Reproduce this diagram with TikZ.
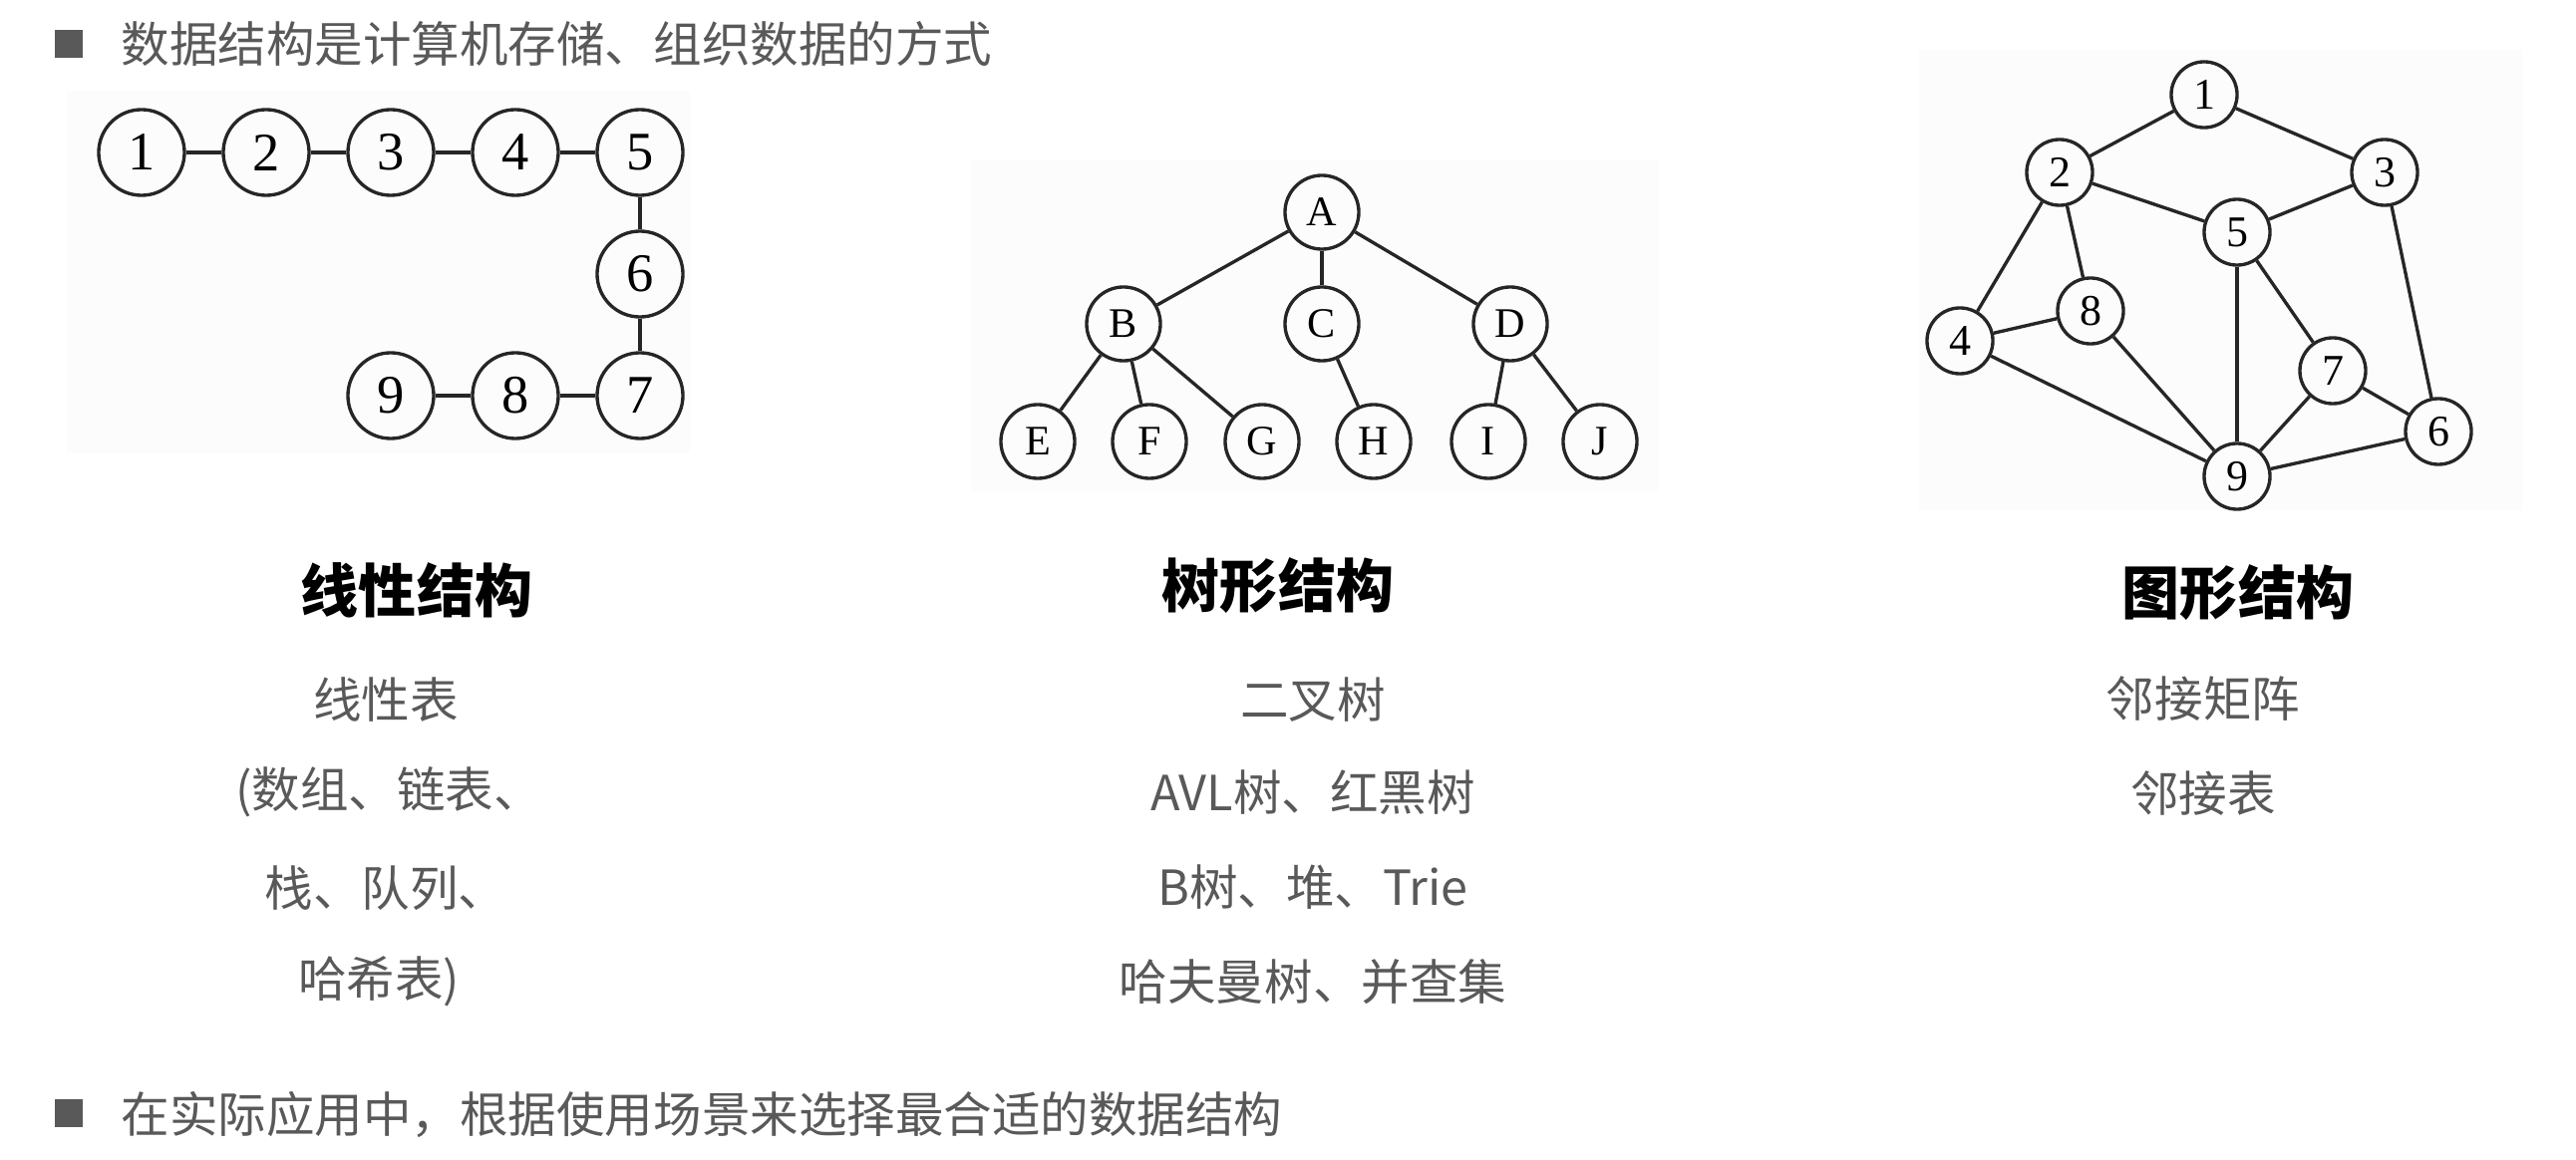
\documentclass[tikz,border=0pt]{standalone}
\usepackage{fontspec}
\setmainfont{Liberation Serif}
\newfontfamily\cjk{Noto Sans CJK SC}
\usetikzlibrary{positioning}
\definecolor{txtgray}{HTML}{595959}
\definecolor{imgbg}{HTML}{FCFCFC}

\begin{document}
\begin{tikzpicture}[x=0.01cm,y=-0.01cm,
        vtx/.style={circle,draw=black!85,line width=0.95pt,inner sep=0pt},
        lin/.style={vtx,minimum size=0.86cm,font=\fontsize{15.5}{18}\selectfont},
        tre/.style={vtx,minimum size=0.74cm,font=\fontsize{12}{14}\selectfont},
        gra/.style={vtx,minimum size=0.66cm,font=\fontsize{12.5}{14}\selectfont},
        edge/.style={draw=black!85,line width=0.95pt},
        body/.style={text=txtgray,inner sep=0pt,font=\cjk\fontsize{13.8}{16}\selectfont},
        title/.style={inner sep=0pt,font=\cjk\bfseries\fontsize{16.5}{19}\selectfont},
        bullet/.style={fill=txtgray,minimum size=0.27cm,inner sep=0pt}]
        \useasboundingbox (0,0) rectangle (2584,1164);
        % picture backgrounds
        \fill[imgbg] (66,91) rectangle (692,455);
        \fill[imgbg] (974,160) rectangle (1663,493);
        \fill[imgbg] (1925,50) rectangle (2530,512);

        % linear structure
        \foreach \n/\x/\y in {1/142/153, 2/267/153, 3/392/153, 4/517/153, 5/642/153,
                              6/642/275, 7/642/397, 8/517/397, 9/392/397}
            \node[lin] (l\n) at (\x,\y) {\n};
        \foreach \a/\b in {1/2, 2/3, 3/4, 4/5, 5/6, 6/7, 7/8, 8/9}
            \draw[edge] (l\a) -- (l\b);

        % tree structure
        \node[tre] (tA) at (1326,213) {A};
        \node[tre] (tB) at (1127,325) {B};
        \node[tre] (tC) at (1326,325) {C};
        \node[tre] (tD) at (1515,325) {D};
        \foreach \n/\x in {E/1041, F/1153, G/1266, H/1378, I/1493, J/1605}
            \node[tre] (t\n) at (\x,443) {\n};
        \foreach \a/\b in {A/B, A/C, A/D, B/E, B/F, B/G, C/H, D/I, D/J}
            \draw[edge] (t\a) -- (t\b);

        % graph structure
        \foreach \n/\x/\y in {1/2211/95, 2/2066/173, 3/2392/173, 4/1966/342, 5/2244/233,
                              6/2446/433, 7/2340/372, 8/2097/312, 9/2244/478}
            \node[gra] (g\n) at (\x,\y) {\n};
        \foreach \a/\b in {1/2, 1/3, 2/5, 3/5, 2/4, 2/8, 4/8, 4/9, 8/9, 5/9, 5/7, 3/6, 7/6, 7/9, 9/6}
            \draw[edge] (g\a) -- (g\b);

        % headings under the pictures
        \node[title] (hlin) at (418,592) {线性结构};
        \node[title] (htre) at (1282,588) {树形结构};
        \node[title] (hgra) at (2245,595) {图形结构};

        % lists
        \node[body] (lin1) at (387,702) {线性表};
        \node[body] (lin2) at (390,795) {(数组、链表、};
        \node[body] (lin3) at (387,891) {栈、队列、};
        \node[body] (lin4) at (380,985) {哈希表)};
        \node[body] (tre1) at (1317,702) {二叉树};
        \node[body] (tre2) at (1317,795) {AVL树、红黑树};
        \node[body] (tre3) at (1317,890) {B树、堆、Trie};
        \node[body] (tre4) at (1317,985) {哈夫曼树、并查集};
        \node[body] (gra1) at (2210,701) {邻接矩阵};
        \node[body] (gra2) at (2210,796) {邻接表};

        % bullet lines
        \node[bullet] (b1) at (69,44) {};
        \node[body,anchor=west] (top) at (121,44) {数据结构是计算机存储、组织数据的方式};
        \node[bullet] (b2) at (69,1117) {};
        \node[body,anchor=west] (bottom) at (121,1119) {在实际应用中，根据使用场景来选择最合适的数据结构};
\end{tikzpicture}
\end{document}
